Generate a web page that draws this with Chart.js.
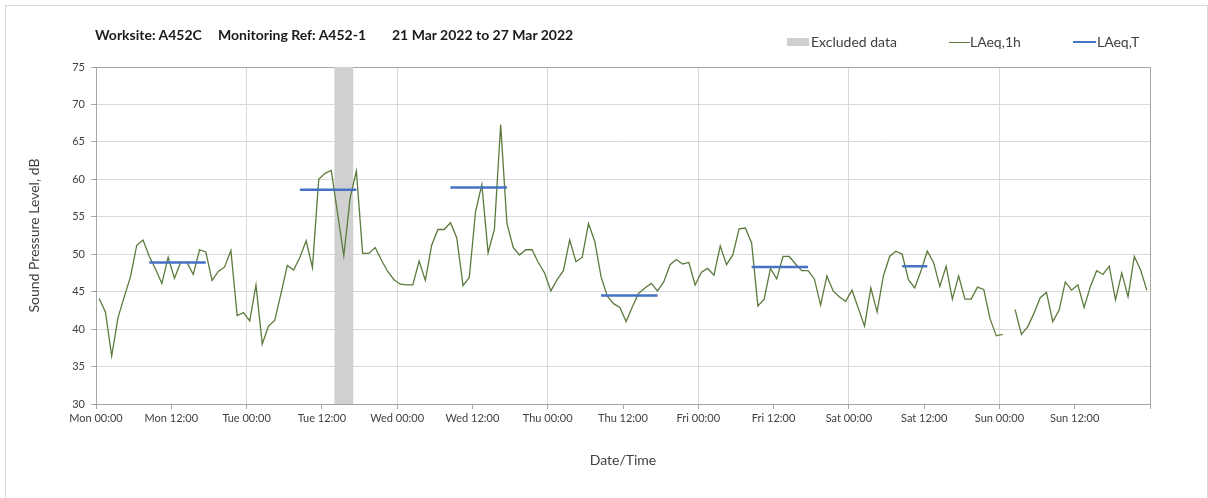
<!DOCTYPE html>
<html>
<head>
<meta charset="utf-8">
<script src="https://cdn.jsdelivr.net/npm/chart.js@4.4.1/dist/chart.umd.min.js"></script>
<style>
    body { margin: 0; background: #fff; overflow: hidden; font-family: Lato, 'Open Sans', sans-serif; }
    #wrap { position: relative; width: 1208px; height: 498px; }
    #frame { position: absolute; left: 5px; top: 5px; width: 1201px; height: 500px; border: 1px solid #d9d9d9; }
    canvas { position: absolute; left: 0; top: 0; }
    .title { position: absolute; top: 26px; font-size: 14px; font-weight: bold; color: #1a1a1a; white-space: pre; }
    .leg { position: absolute; top: 33px; font-size: 14px; color: #404040; white-space: pre; }
    .mark { position: absolute; }
</style>
</head>
<body>
<div id="wrap">
    <div id="frame"></div>
    <canvas id="noiseChart" width="1208" height="498"></canvas>
    <div class="title" style="left:95px">Worksite: A452C</div>
    <div class="title" style="left:218px">Monitoring Ref: A452-1</div>
    <div class="title" style="left:392px">21 Mar 2022 to 27 Mar 2022</div>
    <div class="mark" style="left:787px;top:38px;width:22px;height:8px;background:#d0d0d0"></div>
    <div class="leg" style="left:811px">Excluded data</div>
    <div class="mark" style="left:949px;top:42px;width:21px;height:1px;background:#5b7a3c"></div>
    <div class="leg" style="left:970px">LAeq,1h</div>
    <div class="mark" style="left:1073px;top:41px;width:23px;height:2px;background:#4472c4"></div>
    <div class="leg" style="left:1097px">LAeq,T</div>
</div>
<script>
    // hourly LAeq,1h from Mon 00:00 (one value per hour, null = no data)
    const laeq1h = [
        44.1, 42.3, 36.4, 41.5, 44.3, 47.0, 51.2, 51.9, 49.7, 48.0, 46.1, 49.6,
        46.8, 48.9, 48.9, 47.3, 50.6, 50.3, 46.5, 47.7, 48.3, 50.5, 41.8, 42.2,
        41.1, 45.9, 38.0, 40.4, 41.2, 44.8, 48.5, 47.9, 49.6, 51.8, 48.2, 60.0,
        60.8, 61.2, 55.5, 49.8, 57.5, 61.1, 50.1, 50.1, 50.9, 49.2, 47.7, 46.6,
        46.0, 45.9, 45.9, 49.1, 46.5, 51.2, 53.3, 53.3, 54.2, 52.2, 45.8, 46.9,
        55.7, 59.3, 50.2, 53.3, 67.3, 54.1, 50.9, 49.9, 50.6, 50.6, 48.9, 47.5,
        45.1, 46.6, 47.8, 51.9, 49.0, 49.6, 54.1, 51.7, 47.0, 44.4, 43.4, 42.9,
        41.0, 43.0, 44.8, 45.5, 46.1, 45.1, 46.3, 48.6, 49.3, 48.7, 48.9, 45.9,
        47.6, 48.1, 47.2, 51.1, 48.6, 49.9, 53.4, 53.5, 51.5, 43.1, 44.0, 48.1,
        46.7, 49.7, 49.7, 48.7, 47.8, 47.8, 46.7, 43.2, 47.1, 45.1, 44.3, 43.7,
        45.2, 42.8, 40.4, 45.5, 42.3, 47.1, 49.7, 50.4, 50.0, 46.6, 45.5, 47.8,
        50.4, 48.9, 45.7, 48.4, 44.0, 47.1, 44.0, 44.0, 45.6, 45.3, 41.4, 39.1,
        39.3, null, 42.6, 39.3, 40.3, 42.1, 44.2, 44.9, 41.0, 42.5, 46.3, 45.2,
        45.9, 42.9, 45.7, 47.8, 47.3, 48.4, 43.9, 47.5, 44.3, 49.7, 47.9, 45.2
    ];

    // LAeq,T periods (first and last hour index, level)
    const tStart = [8, 32, 56, 80, 104, 128];
    const tEnd = [17, 41, 65, 89, 113, 132];
    const tLevel = [48.9, 58.6, 58.9, 44.5, 48.3, 48.4];

    // excluded hours (from / to, in hours since Mon 00:00)
    const excludedFrom = 38;
    const excludedTo = 41;

    const xTickLabels = ['Mon 00:00', 'Mon 12:00', 'Tue 00:00', 'Tue 12:00', 'Wed 00:00', 'Wed 12:00',
        'Thu 00:00', 'Thu 12:00', 'Fri 00:00', 'Fri 12:00', 'Sat 00:00', 'Sat 12:00', 'Sun 00:00', 'Sun 12:00', ''];
    const yTicks = [30, 35, 40, 45, 50, 55, 60, 65, 70, 75];

    const hourlyPoints = laeq1h.map((v, i) => ({ x: i + 0.5, y: v }));
    const periodPoints = [];
    tStart.forEach((s, k) => {
        periodPoints.push({ x: s + 0.5, y: tLevel[k] });
        periodPoints.push({ x: tEnd[k] + 0.5, y: tLevel[k] });
        periodPoints.push({ x: tEnd[k] + 1, y: null });
    });

    // grey band for excluded data
    const excludedBand = {
        id: 'excludedBand',
        beforeDatasetsDraw(chart) {
            const { ctx, chartArea, scales: { x } } = chart;
            const x0 = x.getPixelForValue(excludedFrom);
            const x1 = x.getPixelForValue(excludedTo);
            ctx.save();
            ctx.fillStyle = '#d0d0d0';
            ctx.fillRect(x0, chartArea.top, x1 - x0, chartArea.bottom - chartArea.top);
            ctx.restore();
        }
    };

    const fontFamily = 'Lato, "Open Sans", sans-serif';

    new Chart(document.getElementById('noiseChart').getContext('2d'), {
        type: 'line',
        data: {
            datasets: [{
                label: 'LAeq,T',
                data: periodPoints,
                borderColor: '#4472c4',
                borderWidth: 2.5,
                pointRadius: 0,
                spanGaps: false,
                order: 0
            }, {
                label: 'LAeq,1h',
                data: hourlyPoints,
                borderColor: '#5b7a3c',
                borderWidth: 1.3,
                pointRadius: 0,
                spanGaps: false,
                order: 1
            }]
        },
        options: {
            responsive: false,
            animation: false,
            devicePixelRatio: 1,
            layout: { padding: { left: 0, top: 67, right: 58, bottom: 14 } },
            plugins: {
                legend: { display: false },
                tooltip: { enabled: false }
            },
            scales: {
                x: {
                    type: 'linear',
                    min: 0,
                    max: 168,
                    afterFit: (scale) => { scale.height = 80; },
                    ticks: {
                        stepSize: 12,
                        autoSkip: false,
                        maxRotation: 0,
                        padding: 3,
                        color: '#404040',
                        font: { family: fontFamily, size: 11 },
                        callback: (v) => xTickLabels[v / 12] ?? ''
                    },
                    grid: {
                        color: (c) => c.tick && c.tick.value === 168 ? '#a6a6a6'
                            : (c.tick && c.tick.value % 24 === 0 ? '#d9d9d9' : 'rgba(0,0,0,0)'),
                        tickColor: '#a6a6a6',
                        tickLength: 5
                    },
                    border: { display: true, color: '#a6a6a6' },
                    title: {
                        display: true,
                        text: 'Date/Time',
                        color: '#404040',
                        font: { family: fontFamily, size: 14 },
                        padding: { top: 0, bottom: 15 }
                    }
                },
                y: {
                    min: yTicks[0],
                    max: yTicks[yTicks.length - 1],
                    afterFit: (scale) => { scale.width = 96; },
                    afterBuildTicks: (scale) => { scale.ticks = yTicks.map(v => ({ value: v })); },
                    ticks: {
                        padding: 6,
                        color: '#404040',
                        font: { family: fontFamily, size: 11 }
                    },
                    grid: {
                        color: (c) => c.tick && c.tick.value === 75 ? '#a6a6a6' : '#d9d9d9',
                        tickColor: '#a6a6a6',
                        tickLength: 5
                    },
                    border: { display: true, color: '#a6a6a6' },
                    title: {
                        display: true,
                        text: 'Sound Pressure Level, dB',
                        color: '#404040',
                        font: { family: fontFamily, size: 14 },
                        padding: { top: 26, bottom: 0 }
                    }
                }
            }
        },
        plugins: [excludedBand]
    });
</script>
</body>
</html>
